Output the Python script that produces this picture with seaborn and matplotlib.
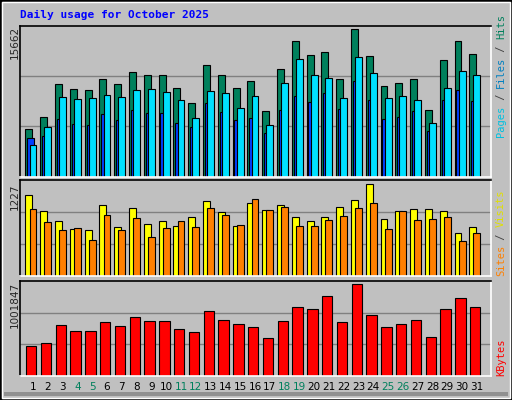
import numpy as np
import pandas as pd
import matplotlib
matplotlib.use("Agg")
import matplotlib.pyplot as plt
import seaborn as sns
from matplotlib.patches import Rectangle

days = list(range(1, 32))
hits = [5036, 6375, 9817, 9286, 9180, 10349, 9817, 11093, 10774, 10774, 9392, 7799, 11837, 10774, 9392, 10136,
        6948, 11412, 14386, 12899, 13218, 10349, 15662, 12793, 9605, 9924, 10349, 7055, 12368, 14386, 13005]
files = [3336, 5312, 8436, 8224, 8330, 8649, 8436, 9180, 9286, 8968, 8118, 6205, 9074, 8861, 7268, 8543,
         5461, 9924, 12474, 10774, 10455, 8330, 12686, 10986, 8330, 8543, 8118, 5674, 9392, 11199, 10774]
pages = [4080, 4292, 6099, 5568, 5461, 6630, 5993, 7055, 6736, 6736, 5674, 5249, 7799, 6842, 5993, 6205,
         4611, 7055, 8543, 7905, 8861, 7161, 10136, 8118, 6099, 6311, 6948, 4824, 8118, 9180, 8012]
sites = [1080, 867, 734, 627, 614, 947, 654, 907, 694, 734, 667, 787, 1000, 854, 667, 974,
         880, 947, 787, 734, 787, 920, 1014, 1227, 760, 867, 894, 894, 867, 574, 654]
visits = [894, 720, 614, 640, 480, 814, 614, 774, 520, 640, 734, 654, 907, 814, 680, 1027,
          880, 920, 667, 667, 747, 800, 907, 974, 627, 867, 747, 760, 787, 467, 574]
kbytes = [330300, 363300, 561500, 495400, 495400, 594500, 550500, 649600, 605500, 605500, 517500, 484400,
          715600, 616600, 572500, 539500, 418400, 605500, 748700, 726700, 869800, 594500, 1001847, 671600,
          539500, 572500, 616600, 429400, 726700, 847800, 748700]
weekend = [4, 5, 11, 12, 18, 19, 25, 26]

sns.set_style("white")
BG = "#C0C0C0"
mono = "DejaVu Sans Mono"

fig = plt.figure(figsize=(5.12, 4.0), dpi=100, facecolor=BG)
# outer 3D frame
fig.patches.append(Rectangle((0, 0), 1, 1, transform=fig.transFigure, fill=False, ec="black", lw=2))
fig.patches.append(Rectangle((2 / 512, 2 / 400), 508 / 512, 396 / 400, transform=fig.transFigure,
                             fill=False, ec="white", lw=1))
fig.patches.append(Rectangle((4 / 512, 4 / 400), 504 / 512, 4 / 400, transform=fig.transFigure,
                             fc="#909090", ec="none"))


def panel(top_px, bot_px):
    ax = fig.add_axes([20 / 512, (400 - bot_px) / 400, 470.7 / 512, (bot_px - top_px) / 400])
    ax.set_facecolor(BG)
    for s in ["left", "top"]:
        ax.spines[s].set_color("black")
        ax.spines[s].set_linewidth(1.2)
    for s in ["right", "bottom"]:
        ax.spines[s].set_color("white")
        ax.spines[s].set_linewidth(1.2)
    ax.set_xticks([])
    ax.set_yticks([])
    ax.set_xlim(0.12, 31.93)
    return ax


def bars(ax, vals, offset, width, color):
    df = pd.DataFrame({"x": np.array(days) + offset, "y": vals})
    sns.barplot(data=df, x="x", y="y", native_scale=True, width=width, color=color, saturation=1,
                edgecolor="black", linewidth=0.8, ax=ax, errorbar=None)
    ax.set_xlabel("")
    ax.set_ylabel("")


def grid(ax, top):
    for f in (1 / 3, 2 / 3):
        ax.axhline(top * f, color="#808080", lw=1, zorder=0)
    ax.set_ylim(0, top)


ax1 = panel(25.7, 176.7)
grid(ax1, 16045)
bars(ax1, hits, -0.28, 0.47, "#00805C")
bars(ax1, pages, -0.15, 0.47, "#0040FF")
bars(ax1, files, 0.0, 0.47, "#00E0FF")
ax1.set_xlim(0.12, 31.93)

ax2 = panel(180.3, 276.3)
grid(ax2, 1280)
bars(ax2, sites, -0.28, 0.47, "#FFFF00")
bars(ax2, visits, 0.0, 0.47, "#FF8000")
ax2.set_xlim(0.12, 31.93)

ax3 = panel(281, 376)
grid(ax3, 1037900)
bars(ax3, kbytes, -0.12, 0.7, "#FF0000")
ax3.set_xlim(0.12, 31.93)
ax3.set_xticks(days)
ax3.set_xticklabels([str(d) for d in days], fontsize=7.5, family="DejaVu Sans")
ax3.tick_params(axis="x", length=0, pad=4)
for lab, d in zip(ax3.get_xticklabels(), days):
    lab.set_color("#00805C" if d in weekend else "black")

fig.text(20 / 512, 1 - 15 / 400, "Daily usage for October 2025", color="#0000FF", fontsize=8,
         weight="bold", family=mono, va="center", ha="left")


def ylab(text, top_px):
    fig.text(15 / 512, 1 - top_px / 400, text, rotation=90, fontsize=7.5, va="top", ha="center",
             family="DejaVu Sans")


ylab("15662", 26)
ylab("1227", 183)
ylab("1001847", 282)


def rlab(parts, bottom_px):
    y = bottom_px
    for text, color in parts:
        t = fig.text(501 / 512, 1 - y / 400, text, rotation=90, fontsize=7.5, va="bottom",
                     ha="center", family=mono, color=color)
        y -= len(text) * 6.1


rlab([("Pages", "#00C0E0"), (" / ", "#404040"), ("Files", "#0080C0"), (" / ", "#404040"),
      ("Hits", "#00805C")], 137)
rlab([("Sites", "#FF8000"), (" / ", "#404040"), ("Visits", "#E0E000")], 276)
rlab([("KBytes", "#FF0000")], 376)

fig.savefig("out.png", dpi=100, facecolor=BG)
